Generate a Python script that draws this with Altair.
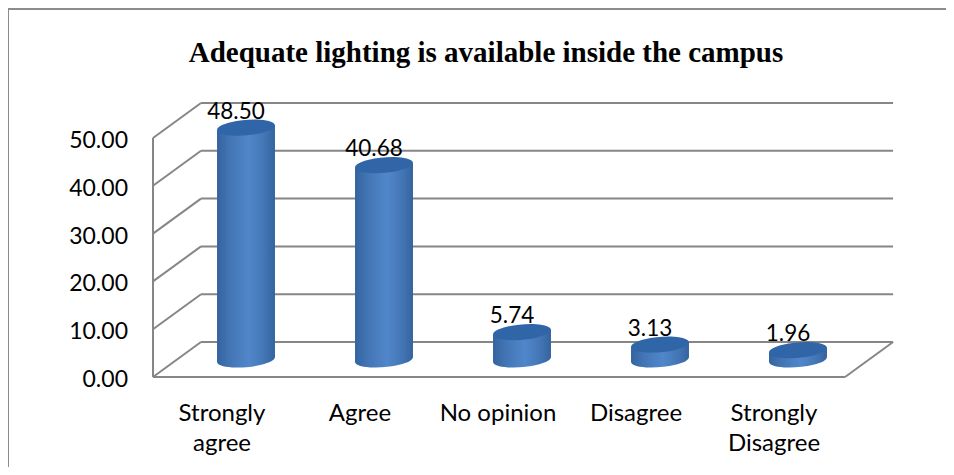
import altair as alt
import pandas as pd

categories = ["Strongly agree", "Agree", "No opinion", "Disagree", "Strongly Disagree"]
values = [48.50, 40.68, 5.74, 3.13, 1.96]
label_lines = [["Strongly", "agree"], ["Agree"], ["No opinion"], ["Disagree"], ["Strongly", "Disagree"]]
ticks = [0, 10, 20, 30, 40, 50]
title_text = "Adequate lighting is available inside the campus"

# projection of the pseudo-3D box, in data units
DX, DY = 0.348, 7.32      # full depth offset
LEFT, RIGHT = -0.674, 4.341
HALF = 0.21               # cylinder half width
TILT = 0.5                # rise of the cylinder ends across a half width

W, H = 938, 459
x_scale = alt.Scale(domain=[-238 / 138, 700 / 138], nice=False, zero=False)
y_scale = alt.Scale(domain=[(369 - 459) / 4.78, 369 / 4.78], nice=False, zero=False)
X = lambda f="x": alt.X(f"{f}:Q", scale=x_scale, axis=None)
Y = lambda f="y": alt.Y(f"{f}:Q", scale=y_scale, axis=None)

# box frame lines
frame = []
for t in ticks:
    frame += [dict(s=f"g{t}", x=LEFT + DX, y=t + DY), dict(s=f"g{t}", x=RIGHT + DX, y=t + DY)]
    frame += [dict(s=f"d{t}", x=LEFT, y=t), dict(s=f"d{t}", x=LEFT + DX, y=t + DY)]
frame += [dict(s="axis", x=LEFT, y=ticks[0]), dict(s="axis", x=LEFT, y=ticks[-1])]
frame += [dict(s="floor", x=LEFT, y=0), dict(s="floor", x=RIGHT, y=0)]
frame += [dict(s="right", x=RIGHT, y=0), dict(s="right", x=RIGHT + DX, y=DY)]
frame_df = pd.DataFrame(frame)
frame_layer = alt.Chart(frame_df).mark_line(color="#868686", strokeWidth=2, clip=False).encode(
    x=X(), y=Y(), detail="s:N")

# cylinders
bars = pd.DataFrame({"i": range(5), "name": categories, "v": values})
bars["cx"] = bars["i"].astype(float)
bars["base"] = DY / 2
bars["top"] = bars["base"] + bars["v"]
sides = []
for _, r in bars.iterrows():
    sides.append(dict(name=r["name"], x=r["cx"] - HALF, y=r["top"] - TILT, y0=r["base"] - TILT))
    sides.append(dict(name=r["name"], x=r["cx"] + HALF, y=r["top"] + TILT, y0=r["base"] + TILT))
sides_df = pd.DataFrame(sides)

gradient = alt.Gradient(
    gradient="linear", x1=0, y1=0, x2=1, y2=0,
    stops=[alt.GradientStop(color="#34639f", offset=0),
           alt.GradientStop(color="#4375b5", offset=0.22),
           alt.GradientStop(color="#5087ca", offset=0.55),
           alt.GradientStop(color="#4375b5", offset=0.82),
           alt.GradientStop(color="#34639f", offset=1)])

ELLIPSE = "M-0.996,0.087A1,0.26,-5,1,1,0.996,-0.087A1,0.26,-5,1,1,-0.996,0.087Z"
SIZE = 58 ** 2

bottom = alt.Chart(bars).mark_point(shape=ELLIPSE, size=SIZE, filled=True, fill=gradient, opacity=1).encode(
    x=X("cx"), y=Y("base"))
side = alt.Chart(sides_df).mark_area(fill=gradient, opacity=1).encode(
    x=X(), y=Y(), y2="y0:Q", detail="name:N")
top = alt.Chart(bars).mark_point(shape=ELLIPSE, size=SIZE, filled=True, fill="#3065a8", opacity=1).encode(
    x=X("cx"), y=Y("top"))

FONT = "Lato"
value_labels = alt.Chart(bars).transform_calculate(lab="format(datum.v, '.2f')").mark_text(
    font=FONT, fontSize=22.5, color="#000000", dx=-10, dy=-16, baseline="middle", align="center").encode(
    x=X("cx"), y=Y("top"), text="lab:N")

tick_df = pd.DataFrame({"y": ticks, "x": LEFT})
tick_labels = alt.Chart(tick_df).transform_calculate(lab="format(datum.y, '.2f')").mark_text(
    font=FONT, fontSize=23, color="#000000", align="right", baseline="middle", dx=-25, dy=3).encode(
    x=X(), y=Y(), text="lab:N")

cat_rows = []
for i, lines in enumerate(label_lines):
    for n, line in enumerate(lines):
        cat_rows.append(dict(x=i + LEFT + 0.5, line=n, text=line))
cat_df = pd.DataFrame(cat_rows)
cat_labels = alt.Chart(cat_df).transform_calculate(y="-7.74 - 6.2 * datum.line").mark_text(
    font=FONT, fontSize=24, color="#000000", align="center", baseline="middle").encode(
    x=X(), y=Y(), text="text:N")

title = alt.Chart(pd.DataFrame({"t": [title_text]})).mark_text(
    font="Liberation Serif", fontWeight="bold", fontSize=29, color="#000000", align="center", baseline="middle").encode(
    x=alt.value(478), y=alt.value(45), text="t:N")

border_v = alt.Chart(pd.DataFrame({"a": [0]})).mark_rule(color="#8c8c8c", strokeWidth=2).encode(
    x=alt.value(0), y=alt.value(1), y2=alt.value(H + 8))
border_h = alt.Chart(pd.DataFrame({"a": [0]})).mark_rule(color="#8c8c8c", strokeWidth=2).encode(
    y=alt.value(1), x=alt.value(0), x2=alt.value(W + 8))

chart = alt.layer(
    border_v, border_h, frame_layer, bottom, side, top,
    value_labels, tick_labels, cat_labels, title
).properties(
    width=W, height=H, padding=0, autosize=alt.AutoSizeParams(type="none"), background="white"
).configure_view(stroke=None)

chart.save("out.html", embed_options={"renderer": "svg", "actions": False})
